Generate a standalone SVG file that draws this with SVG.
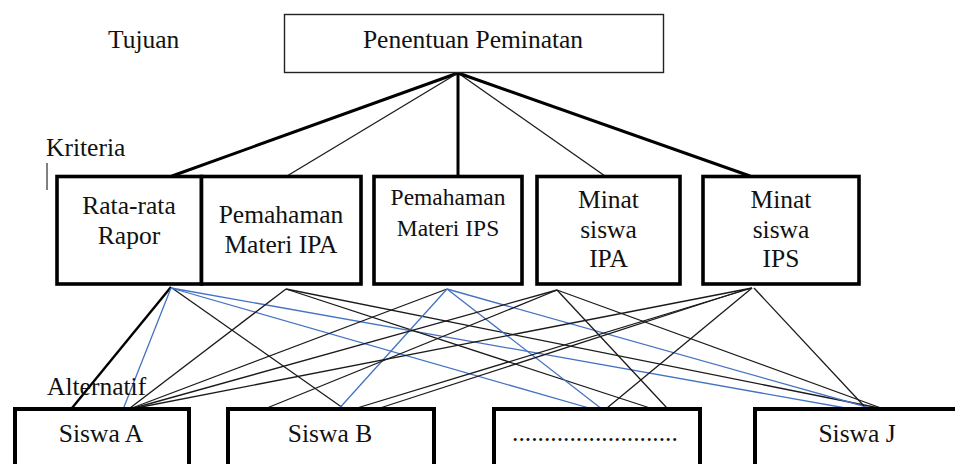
<svg xmlns="http://www.w3.org/2000/svg" width="955" height="464" viewBox="0 0 955 464" font-family="'Liberation Serif', 'DejaVu Serif', serif">
<style>
text{font-family:'Liberation Serif','DejaVu Serif',serif;font-size:25.5px;fill:#111}
.c{text-anchor:middle}
.s{font-size:23.5px}
.goal{fill:#fff;stroke:#222;stroke-width:1.4}
.crit{fill:#fff;stroke:#000;stroke-width:3.6}
.alt{fill:#fff;stroke:#000;stroke-width:4}
.thick{stroke:#000;stroke-width:3;fill:none}
.thin{stroke:#1a1a1a;stroke-width:1.3;fill:none}
.bl{stroke:#4472C4;stroke-width:1.3;fill:none}
.mid{stroke:#000;stroke-width:2.4;fill:none}
</style>
<rect width="955" height="464" fill="#fff"/>
<g id="labels">
<text x="108" y="48">Tujuan</text>
<text x="46" y="156">Kriteria</text>
<line x1="47" y1="163" x2="47" y2="190" stroke="#000" stroke-width="1"/>
</g>
<g id="connectors">
<line class="thick" x1="458" y1="73" x2="172" y2="176"/>
<line class="thin" x1="458" y1="73" x2="287" y2="176"/>
<line class="thick" x1="458" y1="73" x2="458" y2="176"/>
<line class="thin" x1="458" y1="73" x2="605" y2="176"/>
<line class="thick" x1="458" y1="73" x2="750" y2="176"/>

<line class="mid" x1="171" y1="287" x2="72" y2="408"/>
<line class="bl" x1="171" y1="288" x2="122" y2="412"/>
<line class="thin" x1="172" y1="288" x2="343" y2="408"/>
<line class="bl" x1="171" y1="288" x2="603" y2="412"/>
<line class="bl" x1="171" y1="288" x2="868" y2="412"/>

<line class="thin" x1="286" y1="289" x2="130" y2="408"/>
<line class="thin" x1="286" y1="289" x2="650" y2="408"/>
<line class="thin" x1="286" y1="289" x2="879" y2="408"/>

<line class="thin" x1="447" y1="289" x2="132" y2="408"/>
<line class="bl" x1="447" y1="289" x2="336" y2="412"/>
<line class="bl" x1="447" y1="289" x2="607" y2="413"/>
<line class="bl" x1="447" y1="289" x2="888" y2="413"/>

<line class="thin" x1="557" y1="290" x2="134" y2="408"/>
<line class="thin" x1="557" y1="290" x2="267" y2="408"/>
<line class="thin" x1="557" y1="290" x2="667" y2="408"/>
<line class="thin" x1="557" y1="290" x2="881" y2="408"/>

<line class="thin" x1="752" y1="288" x2="136" y2="408"/>
<line class="thin" x1="752" y1="288" x2="357" y2="408"/>
<line class="thin" x1="744" y1="290" x2="380" y2="408"/>
<line class="thin" x1="752" y1="288" x2="607" y2="408"/>
<line class="thin" x1="754" y1="288" x2="864" y2="406"/>
</g>
<g id="goal">
<rect class="goal" x="284.5" y="14.5" width="379" height="58"/>
<text class="c" x="473" y="48">Penentuan Peminatan</text>
</g>
<g id="crit1">
<rect class="crit" x="57" y="176.5" width="144.5" height="107.5"/>
<text class="c" x="129" y="214">Rata-rata</text>
<text class="c" x="129" y="244">Rapor</text>
</g>
<g id="crit2">
<rect class="crit" x="201.5" y="176.5" width="159.5" height="107.5"/>
<text class="c" x="281" y="223">Pemahaman</text>
<text class="c" x="281" y="253">Materi IPA</text>
</g>
<g id="crit3">
<rect class="crit" x="374" y="176.5" width="148" height="107.5"/>
<text class="c s" x="448" y="205">Pemahaman</text>
<text class="c s" x="448" y="236">Materi IPS</text>
</g>
<g id="crit4">
<rect class="crit" x="537" y="176.5" width="143" height="107.5"/>
<text class="c" x="608.5" y="208">Minat</text>
<text class="c" x="608.5" y="238">siswa</text>
<text class="c" x="608.5" y="267">IPA</text>
</g>
<g id="crit5">
<rect class="crit" x="703" y="176.5" width="156" height="107.5"/>
<text class="c" x="781" y="208">Minat</text>
<text class="c" x="781" y="238">siswa</text>
<text class="c" x="781" y="267">IPS</text>
</g>
<g id="altlabel">
<text x="47" y="395">Alternatif</text>
</g>
<g id="altA">
<rect class="alt" x="15" y="409" width="174" height="80"/>
<text class="c" x="101" y="442">Siswa A</text>
</g>
<g id="altB">
<rect class="alt" x="228" y="409" width="206" height="80"/>
<text class="c" x="330" y="442">Siswa B</text>
</g>
<g id="altC">
<rect class="alt" x="494" y="409" width="206" height="80"/>
<text x="512" y="441">..........................</text>
</g>
<g id="altJ">
<rect class="alt" x="755" y="409" width="240" height="80"/>
<text class="c" x="857" y="442">Siswa J</text>
</g>
</svg>
